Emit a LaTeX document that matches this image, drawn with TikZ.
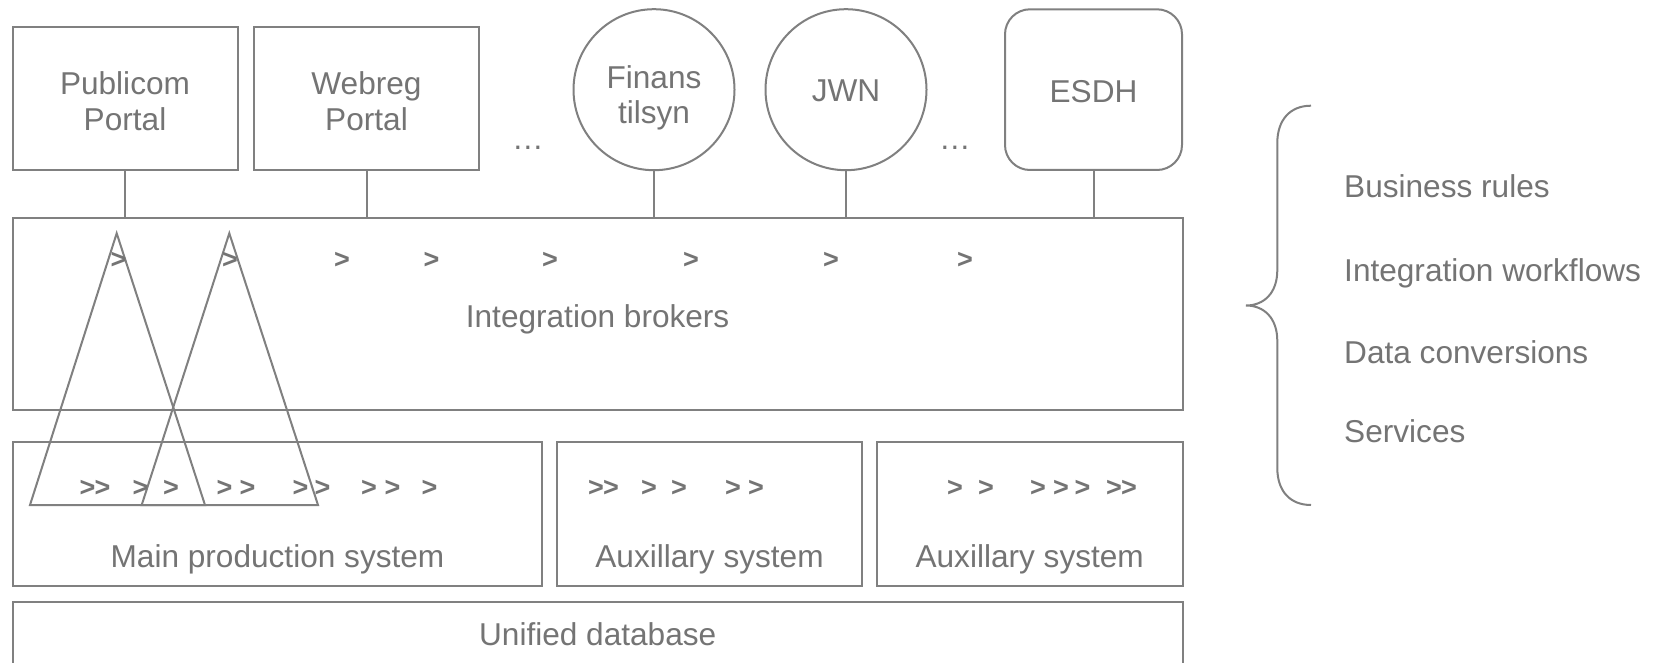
\documentclass[tikz,border=0pt]{standalone}
\usepackage{fontspec}
\setmainfont{Liberation Sans}
\definecolor{lc}{RGB}{128,128,128}
\definecolor{tc}{RGB}{116,116,116}
\tikzset{
  box/.style={draw=lc, line width=2pt, rectangle, inner sep=0pt},
  circ/.style={draw=lc, line width=2pt, circle, inner sep=0pt, minimum size=161pt},
  lbl/.style={text=tc, font=\fontsize{31.6}{36}\selectfont, inner sep=0pt, anchor=base},
  chev/.style={text=tc, font=\fontsize{27}{30}\selectfont\bfseries, inner sep=0pt},
  link/.style={draw=lc, line width=2pt},
}
\begin{document}
\begin{tikzpicture}[x=1pt,y=-1pt]
\clip (0,0) rectangle (1662,663);
\fill[white] (0,0) rectangle (1662,663);

% top row
\node[box, minimum width=225pt, minimum height=143.3pt] (pub) at (125.2,98.35) {};
\node[box, minimum width=225pt, minimum height=143.3pt] (web) at (366.5,98.35) {};
\node[circ] (fin) at (654,89.7) {};
\node[circ] (jwn) at (846,89.7) {};
\node[box, rounded corners=25pt, minimum width=177pt, minimum height=160.7pt] (esdh) at (1093.5,89.65) {};

% layers
\node[box, minimum width=1169.8pt, minimum height=191.7pt] (integ) at (597.6,314.15) {};
\node[box, minimum width=529.6pt, minimum height=143.4pt] (main) at (277.5,514) {};
\node[box, minimum width=305.6pt, minimum height=143.4pt] (aux1) at (709.5,514) {};
\node[box, minimum width=306pt, minimum height=143.4pt] (aux2) at (1029.7,514) {};
\node[box, minimum width=1170pt, minimum height=120pt] (udb) at (597.7,662.3) {};

% texts
\node[lbl] (tpub1) at (125,94.5) {Publicom};
\node[lbl] (tpub2) at (125,131) {Portal};
\node[lbl] (tweb1) at (366.5,94.5) {Webreg};
\node[lbl] (tweb2) at (366.5,131) {Portal};
\node[lbl] (dots1) at (528,150) {…};
\node[lbl] (tfin1) at (654,89) {Finans};
\node[lbl] (tfin2) at (654,124) {tilsyn};
\node[lbl] (tjwn) at (846,102) {JWN};
\node[lbl] (dots2) at (955,150) {…};
\node[lbl] (tesdh) at (1093.5,102.5) {ESDH};
\node[lbl] (tinteg) at (597.6,327) {Integration brokers};
\node[lbl] (tmain) at (277.5,567.7) {Main production system};
\node[lbl] (taux1) at (709.5,567.7) {Auxillary system};
\node[lbl] (taux2) at (1029.7,567.7) {Auxillary system};
\node[lbl] (tudb) at (597.7,645) {Unified database};

% connectors
\foreach \n in {pub,web,fin,jwn,esdh}
  \draw[link] (\n.south) -- (\n.south |- integ.north);

% triangles
\coordinate (t1a) at (116.7,233.3);
\coordinate (t1l) at (30,505);
\coordinate (t1r) at (205,505);
\coordinate (t2a) at (229.3,233.3);
\coordinate (t2l) at (141.7,505);
\coordinate (t2r) at (318,505);
\draw[link] (t1a) -- (t1l) -- (t1r) -- cycle;
\draw[link] (t2a) -- (t2l) -- (t2r) -- cycle;

% chevrons
\foreach \x [count=\i] in {118.5,230,342,431.5,550,691,831,965}
  \node[chev] (ci\i) at (\x,260.5) {>};
\foreach \x [count=\i] in {87.5,102.5,140.5,171,224.5,247.5,300.5,322.5,369,392.5,429.5,
                           596,611,649,679,733,756,
                           955,986,1038,1061,1082.5,1114,1129}
  \node[chev] (cm\i) at (\x,488) {>};

% brace
\coordinate (bt) at (1311,105.7);
\coordinate (b1) at (1277.3,143);
\coordinate (b2) at (1277.3,270);
\coordinate (btip) at (1246,305.5);
\coordinate (b3) at (1277.3,341);
\coordinate (b4) at (1277.3,468);
\coordinate (bb) at (1311,505);
\draw[link] (bt) .. controls (1290,105.7) and (1277.3,120) .. (b1) -- (b2)
  .. controls (1277.3,293) and (1264,305.5) .. (btip)
  .. controls (1264,305.5) and (1277.3,318) .. (b3) -- (b4)
  .. controls (1277.3,491) and (1290,505) .. (bb);

% side texts
\node[lbl, anchor=base west] (s1) at (1344,197) {Business rules};
\node[lbl, anchor=base west] (s2) at (1344,281) {Integration workflows};
\node[lbl, anchor=base west] (s3) at (1344,363) {Data conversions};
\node[lbl, anchor=base west] (s4) at (1344,442.5) {Services};
\end{tikzpicture}
\end{document}
